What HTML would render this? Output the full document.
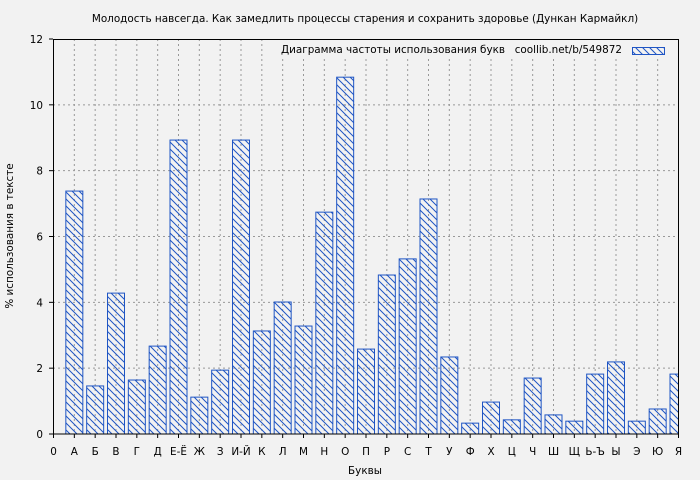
<!DOCTYPE html><html><head><meta charset="utf-8"><style>body{margin:0;background:#f2f2f2}svg{display:block}text{font-family:"DejaVu Sans","Liberation Sans",sans-serif;font-size:10.4px;fill:#000}</style></head><body>
<svg width="700" height="480" xmlns="http://www.w3.org/2000/svg">
<defs><pattern id="h" width="7" height="7" patternUnits="userSpaceOnUse"><path d="M-1,-1 L8,8 M-1,6 L1,8 M6,-1 L8,1" stroke="#1f55c4" stroke-width="1"/></pattern>
<clipPath id="c"><rect x="53" y="39" width="626" height="395"/></clipPath></defs>
<rect width="700" height="480" fill="#f2f2f2"/>
<text x="365" y="22" text-anchor="middle">Молодость навсегда. Как замедлить процессы старения и сохранить здоровье (Дункан Кармайкл)</text>
<g id="grid" stroke="#999" stroke-dasharray="2,3" stroke-width="1"></g>
<g id="bars" clip-path="url(#c)"></g>
<rect x="53.5" y="39.5" width="625" height="394.5" fill="none" stroke="#000"/>
<g id="ax"></g>
<rect x="276" y="40" width="400" height="16" fill="#f2f2f2"/>
<text x="281" y="53">Диаграмма частоты использования букв</text>
<text x="622" y="53" text-anchor="end">coollib.net/b/549872</text>
<rect x="632.5" y="47.5" width="32" height="7" fill="url(#h)" stroke="#1f55c4"/>
<text x="365" y="474" text-anchor="middle">Буквы</text>
<text transform="translate(13,236) rotate(-90)" text-anchor="middle">% использования в тексте</text>
</svg>
<script>
var L=["0","А","Б","В","Г","Д","Е-Ё","Ж","З","И-Й","К","Л","М","Н","О","П","Р","С","Т","У","Ф","Х","Ц","Ч","Ш","Щ","Ь-Ъ","Ы","Э","Ю","Я"];
var V=[7.38,1.46,4.28,1.64,2.67,8.93,1.12,1.94,8.93,3.13,4.01,3.28,6.74,10.84,2.58,4.83,5.32,7.14,2.34,0.33,0.97,0.43,1.70,0.58,0.39,1.82,2.19,0.39,0.76,1.82];
var ns="http://www.w3.org/2000/svg",g=document.getElementById("grid"),b=document.getElementById("bars"),a=document.getElementById("ax");
function el(p,t,o,tx){var e=document.createElementNS(ns,t);for(var k in o)e.setAttribute(k,o[k]);if(tx)e.textContent=tx;p.appendChild(e);}
var dx=625/30,dy=395/12;
for(var i=0;i<=30;i++){var x=53.5+i*dx;if(i>0&&i<30)el(g,"line",{x1:x,x2:x,y1:39,y2:434});el(a,"line",{x1:x,x2:x,y1:434,y2:438,stroke:"#000"});el(a,"text",{x:x,y:455,"text-anchor":"middle"},L[i]);}
for(var j=0;j<=12;j+=2){var y=434-j*dy;if(j>0&&j<12)el(g,"line",{x1:53,x2:679,y1:y,y2:y});el(a,"line",{x1:49,x2:53,y1:y,y2:y,stroke:"#000"});el(a,"text",{x:43,y:y+4,"text-anchor":"end"},String(j));}
for(var i=0;i<30;i++){var x=53.5+(i+1)*dx,h=V[i]*dy;el(b,"rect",{x:x-8.5,y:434-h,width:17,height:h,fill:"url(#h)",stroke:"#1f55c4","stroke-width":1});}
</script>
</body></html>
